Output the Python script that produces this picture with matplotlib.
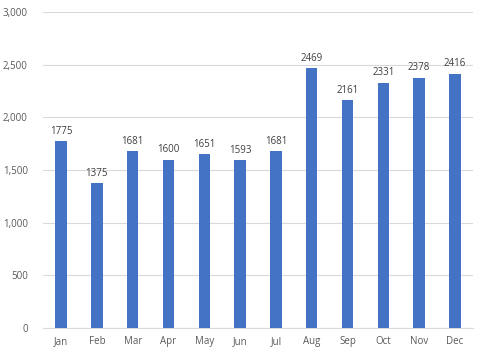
import matplotlib
matplotlib.use('Agg')
import matplotlib.pyplot as plt
from matplotlib.ticker import FuncFormatter

months = ['Jan', 'Feb', 'Mar', 'Apr', 'May', 'Jun', 'Jul', 'Aug', 'Sep', 'Oct', 'Nov', 'Dec']
counts = [1775, 1375, 1681, 1600, 1651, 1593, 1681, 2469, 2161, 2331, 2378, 2416]

plt.rcParams['font.family'] = ['Open Sans', 'DejaVu Sans']

fig = plt.figure(figsize=(4.8, 3.55), dpi=100)
ax = fig.add_axes([0.09, 0.076, 0.895, 0.89])

x = range(len(months))
bars = ax.bar(x, counts, width=0.32, color='#4472C4', zorder=3)
for i, v in zip(x, counts):
    ax.text(i, v + 40, str(v), ha='center', va='bottom', fontsize=7, color='#404040')

ax.set_xlim(-0.5, len(months) - 0.5)
ax.set_ylim(0, 3000)
ax.set_yticks(range(0, 3001, 500))
ax.yaxis.set_major_formatter(FuncFormatter(lambda v, p: f'{int(v):,}'))
ax.set_xticks(list(x))
ax.set_xticklabels(months)
ax.grid(axis='y', color='#D9D9D9', linewidth=0.8, zorder=0)
for s in ['top', 'right', 'left']:
    ax.spines[s].set_visible(False)
ax.spines['bottom'].set_color('#D9D9D9')
ax.tick_params(length=0, labelsize=7, labelcolor='#595959')
ax.tick_params(axis='y', pad=11)
ax.tick_params(axis='x', pad=6)

fig.savefig('out.png', dpi=100)
